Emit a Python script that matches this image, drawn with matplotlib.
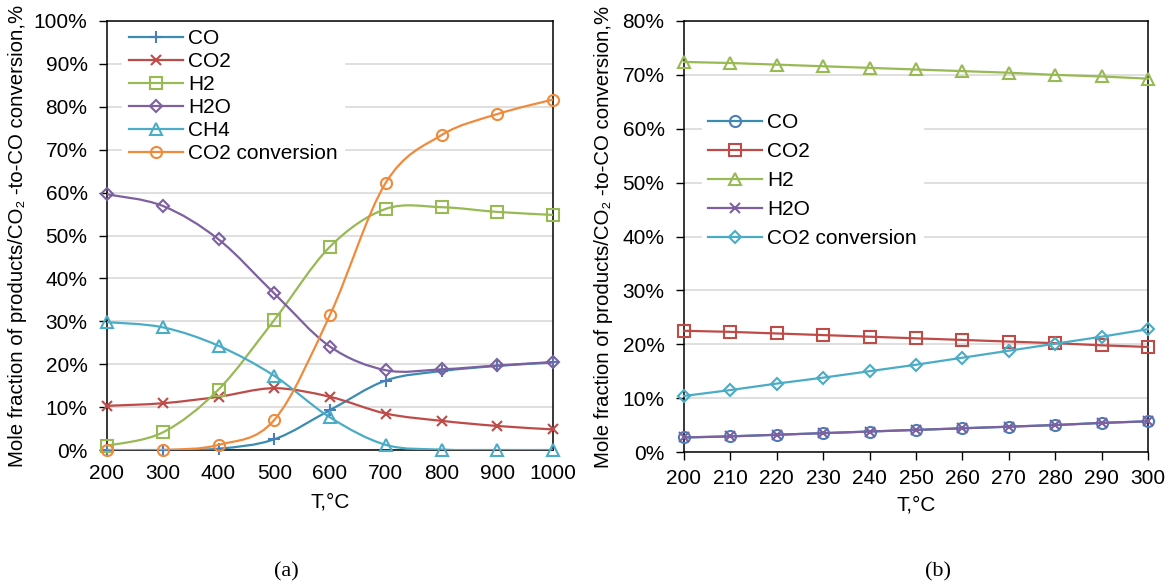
import numpy as np
import matplotlib
matplotlib.use('Agg')
import matplotlib.pyplot as plt
from matplotlib.path import Path
from matplotlib.patches import PathPatch
from matplotlib.lines import Line2D
from matplotlib.ticker import FuncFormatter

plt.rcParams['font.family'] = ['Liberation Sans', 'DejaVu Sans']

# (a) 200-1000 C, mole fraction %
t_a = [200, 300, 400, 500, 600, 700, 800, 900, 1000]
co_a = [0.0, 0.0, 0.3, 2.5, 9.3, 16.2, 18.4, 19.6, 20.4]
co2_a = [10.3, 10.9, 12.4, 14.4, 12.4, 8.5, 6.8, 5.6, 4.8]
h2_a = [1.0, 4.1, 14.1, 30.3, 47.4, 56.2, 56.6, 55.5, 54.8]
h2o_a = [59.6, 56.9, 49.1, 36.5, 24.1, 18.6, 18.8, 19.7, 20.5]
ch4_a = [29.8, 28.6, 24.3, 17.3, 7.6, 1.2, 0.1, 0.0, 0.0]
conv_a = [0.0, 0.0, 1.2, 7.0, 31.5, 62.3, 73.4, 78.3, 81.7]

# (b) 200-300 C
t_b = [200, 210, 220, 230, 240, 250, 260, 270, 280, 290, 300]
co_b = [2.7, 2.9, 3.2, 3.5, 3.8, 4.1, 4.4, 4.7, 5.0, 5.4, 5.7]
co2_b = [22.5, 22.3, 22.0, 21.7, 21.4, 21.1, 20.8, 20.5, 20.2, 19.8, 19.5]
h2_b = [72.4, 72.2, 71.9, 71.6, 71.3, 71.0, 70.7, 70.4, 70.0, 69.7, 69.3]
h2o_b = [2.7, 2.9, 3.2, 3.5, 3.8, 4.1, 4.4, 4.7, 5.0, 5.4, 5.7]
conv_b = [10.4, 11.5, 12.7, 13.8, 15.0, 16.2, 17.5, 18.8, 20.1, 21.4, 22.8]

BLUE = '#4A7EBB'
TEAL = '#3A8CB0'
RED = '#BE4B48'
GREEN = '#98B954'
PURPLE = '#7D60A0'
AQUA = '#4BACC6'
ORANGE = '#F08A3C'

FS = 15
ylab = 'Mole fraction of products/CO\u2082 -to-CO conversion,%'


def smooth_path(xs, ys):
    # excel-like smoothed line through the points (bezier segments)
    p = np.column_stack([xs, ys]).astype(float)
    n = len(p)
    verts = [p[0]]
    codes = [Path.MOVETO]
    for i in range(n - 1):
        p0 = p[max(i - 1, 0)]
        p1 = p[i]
        p2 = p[i + 1]
        p3 = p[min(i + 2, n - 1)]
        verts += [p1 + (p2 - p0) / 6, p2 - (p3 - p1) / 6, p2]
        codes += [Path.CURVE4] * 3
    return Path(verts, codes)


def style_axes(ax):
    for s in ax.spines.values():
        s.set_color('black')
        s.set_linewidth(1.1)
    ax.yaxis.grid(True, color='#D9D9D9', linewidth=1.2)
    ax.set_axisbelow(True)
    ax.yaxis.set_major_formatter(FuncFormatter(lambda v, p: '%d%%' % round(v)))
    ax.tick_params(axis='y', direction='out', length=6, width=1, labelsize=FS, pad=8)


fig = plt.figure(figsize=(11.69, 5.85), dpi=100)

# ---------- (a)
ax1 = fig.add_axes([107 / 1169, 1 - 450 / 585, 446 / 1169, 429 / 585])
style_axes(ax1)
series_a = [
    ('CO', co_a, TEAL, BLUE, '+', 9),
    ('CO2', co2_a, RED, RED, 'x', 7),
    ('H2', h2_a, GREEN, GREEN, 's', 8),
    ('H2O', h2o_a, PURPLE, PURPLE, 'D', 6),
    ('CH4', ch4_a, AQUA, AQUA, '^', 8.5),
    ('CO2 conversion', conv_a, ORANGE, ORANGE, 'o', 8),
]
handles = []
for i, (name, vals, lc, mc, mk, ms) in enumerate(series_a):
    ax1.add_patch(PathPatch(smooth_path(t_a, vals), fill=False, edgecolor=lc,
                            linewidth=1.6, zorder=3 + i))
    ax1.plot(t_a, vals, ls='none', marker=mk, ms=ms, mfc='none', mec=mc,
             mew=1.5, zorder=3 + i, clip_on=False)
    handles.append(Line2D([], [], color=lc, lw=1.6, marker=mk, ms=ms,
                          mfc='none', mec=mc, mew=1.5, label=name))
ax1.set_xlim(200, 1000)
ax1.set_ylim(0, 100)
ax1.set_xticks(t_a)
ax1.set_yticks(range(0, 101, 10))
ax1.tick_params(axis='x', length=0, labelsize=FS, pad=10)
ax1.set_xlabel('T,\u00b0C', fontsize=FS)
ax1.xaxis.set_label_coords(0.5, -0.10)
ax1.set_ylabel(ylab, fontsize=14.7)
ax1.yaxis.set_label_coords(-0.18, 0.5)
leg = ax1.legend(handles=handles, loc='upper left', bbox_to_anchor=(0.03, 1.0),
                 fontsize=FS, frameon=True, fancybox=False, edgecolor='white',
                 facecolor='white', framealpha=1, borderaxespad=0.1,
                 borderpad=0.3, labelspacing=0.19, handlelength=2.6,
                 handletextpad=0.25)
leg.set_zorder(20)

# ---------- (b)
ax2 = fig.add_axes([684 / 1169, 1 - 452 / 585, 464 / 1169, 431 / 585])
style_axes(ax2)
series_b = [
    ('CO', co_b, TEAL, BLUE, 'o', 8),
    ('CO2', co2_b, RED, RED, 's', 8.5),
    ('H2', h2_b, GREEN, GREEN, '^', 9),
    ('H2O', h2o_b, PURPLE, PURPLE, 'x', 7),
    ('CO2 conversion', conv_b, AQUA, AQUA, 'D', 6),
]
handles = []
for i, (name, vals, lc, mc, mk, ms) in enumerate(series_b):
    ax2.plot(t_b, vals, color=lc, lw=1.6, zorder=3 + i, marker=mk, ms=ms,
             mfc='none', mec=mc, mew=1.5, clip_on=False)
    handles.append(Line2D([], [], color=lc, lw=1.6, marker=mk, ms=ms,
                          mfc='none', mec=mc, mew=1.5, label=name))
ax2.set_xlim(200, 300)
ax2.set_ylim(0, 80)
ax2.set_xticks(t_b)
ax2.set_yticks(range(0, 81, 10))
ax2.tick_params(axis='x', direction='out', length=6, width=1, labelsize=FS, pad=6)
ax2.set_xlabel('T,\u00b0C', fontsize=FS)
ax2.xaxis.set_label_coords(0.5, -0.10)
ax2.set_ylabel(ylab, fontsize=14.7)
ax2.yaxis.set_label_coords(-0.153, 0.5)
leg = ax2.legend(handles=handles, loc='upper left', bbox_to_anchor=(0.034, 0.805),
                 fontsize=FS, frameon=True, fancybox=False, edgecolor='white',
                 facecolor='white', framealpha=1, borderaxespad=0.1,
                 borderpad=0.3, labelspacing=0.48, handlelength=2.6,
                 handletextpad=0.25)
leg.set_zorder(20)

fig.text(286 / 1169, 1 - 572 / 585, '(a)', family='Liberation Serif',
         fontsize=16, ha='center', va='center')
fig.text(938 / 1169, 1 - 572 / 585, '(b)', family='Liberation Serif',
         fontsize=16, ha='center', va='center')

fig.savefig('out.png', dpi=100)
